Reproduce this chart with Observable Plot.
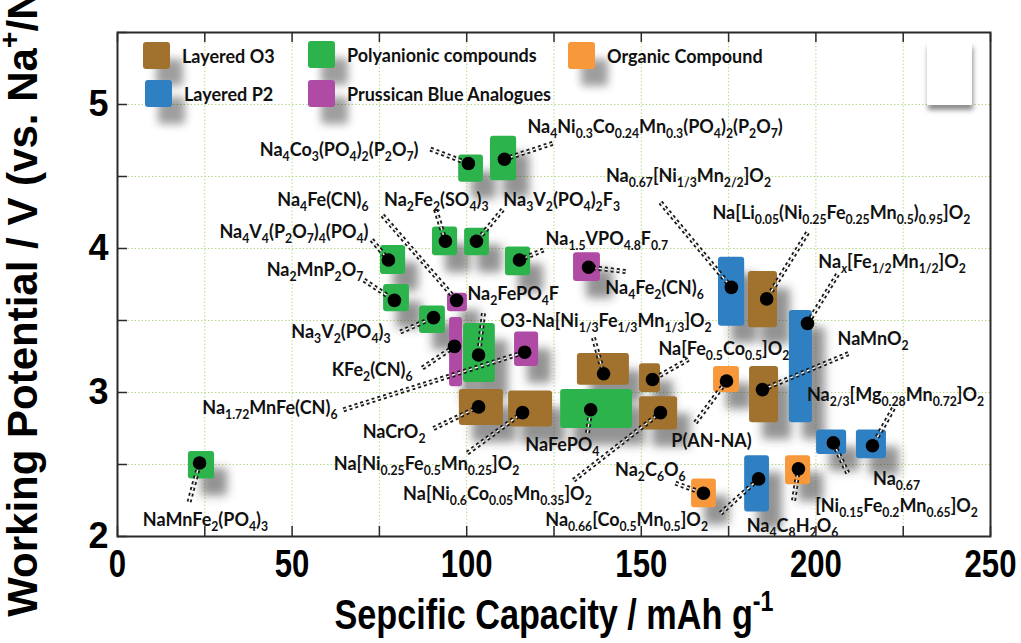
<!DOCTYPE html>
<html>
<head>
<meta charset="utf-8">
<script src="https://cdn.jsdelivr.net/npm/d3@7"></script>
<script src="https://cdn.jsdelivr.net/npm/@observablehq/plot@0.6"></script>
<style>
  body { margin: 0; background: #fff; }
  #wrap { position: relative; width: 1021px; height: 643px; overflow: hidden; }
  #wrap svg { display: block; }
  .lg { position: absolute; display: flex; align-items: center; white-space: nowrap;
        font-family: Lato, "Open Sans", sans-serif; font-weight: 700; font-size: 18px; color: #111; }
  .sw { width: 27px; height: 27px; border-radius: 3px; margin-right: 12px;
        box-shadow: 13px 17px 8px rgba(0,0,0,0.38); }
  .blank { position: absolute; left: 927px; top: 42px; width: 45px; height: 63px; background: #fff;
           box-shadow: 1px 5px 5px rgba(0,0,0,0.45); }
</style>
</head>
<body>
<div id="wrap"></div>
<script>
// ---------------- data ----------------
const families = ["Layered O3", "Layered P2", "Polyanionic compounds", "Prussican Blue Analogues", "Organic Compound"];
const familyColors = ["#a0722e", "#2f7fc3", "#2db34c", "#b04ba5", "#f7983a"];

const materials = [
  "NaMnFe_{2}(PO_{4})_{3}",
  "Na_{4}Co_{3}(PO_{4})_{2}(P_{2}O_{7})",
  "Na_{4}Ni_{0.3}Co_{0.24}Mn_{0.3}(PO_{4})_{2}(P_{2}O_{7})",
  "Na_{2}Fe_{2}(SO_{4})_{3}",
  "Na_{3}V_{2}(PO_{4})_{2}F_{3}",
  "Na_{1.5}VPO_{4.8}F_{0.7}",
  "Na_{4}V_{4}(P_{2}O_{7})_{4}(PO_{4})",
  "Na_{2}MnP_{2}O_{7}",
  "Na_{4}Fe(CN)_{6}",
  "Na_{2}FePO_{4}F",
  "Na_{3}V_{2}(PO_{4})_{3}",
  "KFe_{2}(CN)_{6}",
  "Na_{1.72}MnFe(CN)_{6}",
  "NaCrO_{2}",
  "Na[Ni_{0.25}Fe_{0.5}Mn_{0.25}]O_{2}",
  "NaFePO_{4}",
  "O3-Na[Ni_{1/3}Fe_{1/3}Mn_{1/3}]O_{2}",
  "Na[Fe_{0.5}Co_{0.5}]O_{2}",
  "Na[Ni_{0.6}Co_{0.05}Mn_{0.35}]O_{2}",
  "Na_{0.66}[Co_{0.5}Mn_{0.5}]O_{2}",
  "Na_{2}C_{6}O_{6}",
  "Na_{4}C_{8}H_{2}O_{6}",
  "Na_{0.67}\n[Ni_{0.15}Fe_{0.2}Mn_{0.65}]O_{2}",
  "Na_{2/3}[Mg_{0.28}Mn_{0.72}]O_{2}",
  "P(AN-NA)",
  "NaMnO_{2}",
  "Na_{x}[Fe_{1/2}Mn_{1/2}]O_{2}",
  "Na_{0.67}[Ni_{1/3}Mn_{2/2}]O_{2}",
  "Na[Li_{0.05}(Ni_{0.25}Fe_{0.25}Mn_{0.5})_{0.95}]O_{2}",
  "Na_{4}Fe_{2}(CN)_{6}"
];
const family = [
  "Polyanionic compounds", "Polyanionic compounds", "Polyanionic compounds", "Polyanionic compounds",
  "Polyanionic compounds", "Polyanionic compounds", "Polyanionic compounds", "Polyanionic compounds",
  "Prussican Blue Analogues", "Polyanionic compounds", "Polyanionic compounds", "Prussican Blue Analogues",
  "Prussican Blue Analogues", "Layered O3", "Layered O3", "Polyanionic compounds",
  "Layered O3", "Layered O3", "Layered O3", "Layered P2",
  "Organic Compound", "Organic Compound", "Layered P2", "Layered P2",
  "Organic Compound", "Layered O3", "Layered P2", "Layered P2",
  "Layered O3", "Prussican Blue Analogues"
];
// average specific capacity (mAh/g) and working potential (V)
const capacity = [23.5, 100.5, 110.8, 93.9, 102.8, 115.1, 77.6, 79.3, 97.1, 103.4,
                  90.5, 96.5, 116.6, 103.4, 116.0, 135.5, 139.2, 153.2, 155.5, 183.6,
                  167.8, 195.0, 205.0, 216.2, 174.4, 184.7, 197.6, 175.8, 185.9, 134.9];
const potential = [2.51, 4.59, 4.62, 4.05, 4.05, 3.92, 3.92, 3.64, 3.64, 3.26,
                   3.52, 3.32, 3.28, 2.90, 2.86, 2.88, 3.13, 3.09, 2.86, 2.40,
                   2.30, 2.47, 2.65, 2.63, 3.08, 3.02, 3.48, 3.73, 3.65, 3.87];
// ranges spanned by each material
const capacityRange = [[20.3, 27.8], [97.7, 104.8], [106.8, 114.3], [90.2, 97.4], [99.4, 106.5],
  [111.1, 118.3], [75.3, 82.5], [76.2, 83.6], [94.5, 100.2], [99.1, 108.2],
  [86.5, 93.9], [95.1, 98.8], [113.7, 120.6], [97.9, 110.5], [112.0, 124.6],
  [126.9, 147.5], [131.7, 146.6], [149.5, 155.5], [149.5, 160.4], [179.6, 186.7],
  [164.4, 171.5], [191.3, 198.5], [200.2, 208.8], [211.6, 220.2], [170.7, 178.1],
  [181.0, 189.3], [192.4, 199.0], [172.1, 179.6], [180.7, 189.0], [130.6, 138.3]];
const potentialRange = [[2.40, 2.59], [4.46, 4.65], [4.47, 4.78], [3.95, 4.15], [3.95, 4.14],
  [3.81, 4.01], [3.82, 4.02], [3.56, 3.75], [3.56, 3.69], [3.07, 3.48],
  [3.41, 3.60], [3.04, 3.52], [3.18, 3.42], [2.77, 3.02], [2.76, 3.01],
  [2.75, 3.02], [3.05, 3.27], [3.00, 3.20], [2.74, 2.97], [2.17, 2.56],
  [2.20, 2.40], [2.36, 2.56], [2.57, 2.74], [2.54, 2.74], [3.00, 3.18],
  [2.79, 3.18], [2.79, 3.57], [3.46, 3.94], [3.45, 3.84], [3.77, 3.97]];

// annotation placement (in data units): label anchor point, text anchor, leader end
const labelAt = [[25.2, 2.12], [86.2, 4.69], [117.4, 4.85], [91.3, 4.34], [110.5, 4.34],
  [122.6, 4.07], [71.9, 4.12], [70.4, 3.86], [71.9, 4.34], [100.2, 3.69],
  [78.2, 3.43], [84.5, 3.16], [63.0, 2.90], [88.2, 2.73], [88.5, 2.51],
  [127.4, 2.64], [109.6, 3.50], [154.9, 3.31], [108.8, 2.30], [145.8, 2.12],
  [162.7, 2.47], [193.3, 2.08], [223.1, 2.33], [222.8, 2.99], [170.1, 2.67],
  [206.2, 3.38], [200.7, 3.91], [163.5, 4.51], [207.3, 4.25], [153.8, 3.73]];
const labelAnchor = ["middle", "end", "start", "middle", "start", "start", "end", "end", "end", "start",
  "end", "end", "end", "end", "middle", "middle", "start", "start", "middle", "middle",
  "end", "middle", "middle", "middle", "middle", "start", "start", "middle", "middle", "middle"];
const leaderTo = [[20.5, 2.24], [89.6, 4.69], [124.6, 4.73], [91.1, 4.27], [110.3, 4.27],
  [122.0, 3.99], [72.8, 4.06], [70.6, 3.78], [75.9, 4.23], [104.8, 3.55],
  [81.0, 3.42], [87.3, 3.17], [64.7, 2.88], [90.5, 2.75], [100.2, 2.58],
  [134.6, 2.72], [136.3, 3.38], [163.5, 3.23], [130.6, 2.39], [172.7, 2.16],
  [159.8, 2.37], [193.6, 2.25], [209.1, 2.44], [222.2, 2.89], [165.5, 2.79],
  [209.3, 3.27], [206.2, 3.82], [155.5, 4.32], [197.6, 4.11], [145.5, 3.84]];

const xTicks = [0, 25, 50, 75, 100, 125, 150, 175, 200, 225, 250];
const xTickLabels = [0, 50, 100, 150, 200, 250];
const yTicks = [2, 2.5, 3, 3.5, 4, 4.5, 5, 5.5];
const yTickLabels = [2, 3, 4, 5];
const xTitle = "Sepcific Capacity / mAh g^{-1}";
const yTitle = "Working Potential / V (vs. Na^{+}/Na)";

// ---------------- table ----------------
const table = materials.map((name, i) => ({
  name, family: family[i], cap: capacity[i], v: potential[i],
  capLo: capacityRange[i][0], capHi: capacityRange[i][1],
  vLo: potentialRange[i][0], vHi: potentialRange[i][1],
  labCap: labelAt[i][0], labV: labelAt[i][1], anchor: labelAnchor[i],
  leadCap: leaderTo[i][0], leadV: leaderTo[i][1]
}));

const LBL = "Lato, 'Open Sans', sans-serif";
const ARIAL = "'Liberation Sans', Arial, sans-serif";

const labelMark = anchor => Plot.text(table.filter(d => d.anchor === anchor), {
  x: "labCap", y: "labV", text: "name", textAnchor: anchor,
  fontSize: 18, fontWeight: 700, fontFamily: LBL, fill: "#111", lineHeight: 1.2
});

const plot = Plot.plot({
  width: 1021, height: 643,
  marginLeft: 117, marginRight: 31, marginTop: 32, marginBottom: 107,
  x: {domain: [0, 250]},
  y: {domain: [2, 5.5]},
  color: {domain: families, range: familyColors},
  style: {background: "#fff", overflow: "visible"},
  marks: [
    Plot.gridX(xTicks, {stroke: "#b9d98a", strokeOpacity: 1, strokeDasharray: "1.5,2"}),
    Plot.gridY(yTicks, {stroke: "#b9d98a", strokeOpacity: 1, strokeDasharray: "1.5,2"}),
    // shadows
    Plot.rect(table, {x1: "capLo", x2: "capHi", y1: "vLo", y2: "vHi", fill: "#3a3a3a",
      fillOpacity: 0.55, dx: 13, dy: 17, rx: 3}),
    // boxes
    Plot.rect(table, {x1: "capLo", x2: "capHi", y1: "vLo", y2: "vHi", fill: "family", rx: 3}),
    // leaders (double dashed)
    Plot.link(table, {x1: "leadCap", y1: "leadV", x2: "cap", y2: "v", stroke: "#1a1a1a",
      strokeWidth: 5, strokeDasharray: "3,3"}),
    Plot.link(table, {x1: "leadCap", y1: "leadV", x2: "cap", y2: "v", stroke: "#fff",
      strokeWidth: 1.4, strokeDasharray: "3,3"}),
    Plot.dot(table, {x: "cap", y: "v", r: 6.8, fill: "#000"}),
    labelMark("start"), labelMark("middle"), labelMark("end"),
    Plot.frame({stroke: "#2a2a2a", strokeWidth: 2}),
    Plot.axisX(xTicks, {anchor: "bottom", tickSize: -10, tickFormat: () => "", label: null, stroke: "#2a2a2a", strokeWidth: 1.5}),
    Plot.axisX(xTicks, {anchor: "top", tickSize: -9, tickFormat: () => "", label: null, stroke: "#2a2a2a", strokeWidth: 1.5}),
    Plot.axisX(xTickLabels, {anchor: "bottom", tickSize: 0, tickPadding: 14, label: null,
      tickFormat: d => String(d), fontSize: 38, fontWeight: "bold", fontFamily: ARIAL, fill: "#000"}),
    Plot.axisY(yTicks, {anchor: "left", tickSize: -10, tickFormat: () => "", label: null, stroke: "#2a2a2a", strokeWidth: 1.5}),
    Plot.axisY(yTickLabels, {anchor: "left", tickSize: 0, tickPadding: 9, label: null,
      tickFormat: d => String(d), fontSize: 36, fontWeight: "bold", fontFamily: ARIAL, fill: "#000"}),
    Plot.text([xTitle], {text: d => d, frameAnchor: "bottom", textAnchor: "middle", dy: 92, fontSize: 42,
      fontWeight: "bold", fontFamily: ARIAL, fill: "#000"}),
    Plot.text([yTitle], {text: d => d, frameAnchor: "left", textAnchor: "middle", rotate: -90, dx: -94, fontSize: 42,
      fontWeight: "bold", fontFamily: ARIAL, fill: "#000"})
  ]
});

const wrap = document.getElementById("wrap");
wrap.appendChild(plot);

// blur the shadow layer
const svg = d3.select(plot);
const defs = svg.insert("defs", ":first-child");
defs.append("filter").attr("id", "softShadow")
  .attr("x", "-20%").attr("y", "-20%").attr("width", "140%").attr("height", "140%")
  .append("feGaussianBlur").attr("stdDeviation", 5);
const rectGroups = plot.querySelectorAll('g[aria-label="rect"]');
if (rectGroups.length) rectGroups[0].setAttribute("filter", "url(#softShadow)");

// drop empty tick texts (tick-only axes)
plot.querySelectorAll("text").forEach(el => { if (!el.textContent.trim()) el.remove(); });

// narrow the x-axis typography (condensed look)
plot.querySelectorAll('g[aria-label="x-axis tick label"] text').forEach(el => {
  el.setAttribute("transform", (el.getAttribute("transform") || "") + " scale(0.82,1)");
});

// rich text: _{sub} and ^{sup}
const NS = "http://www.w3.org/2000/svg";
function richify(node, fs) {
  const s = node.textContent;
  if (!/[_^]\{/.test(s)) return false;
  node.textContent = "";
  const re = /([_^])\{([^}]*)\}/g;
  let last = 0, m, shift = 0;
  const add = (txt, kind) => {
    const t = document.createElementNS(NS, "tspan");
    t.textContent = txt;
    const target = kind === "sub" ? fs * 0.28 : kind === "sup" ? -fs * 0.42 : 0;
    const dy = target - shift;
    if (dy) t.setAttribute("dy", dy.toFixed(2));
    shift = target;
    if (kind) {
      t.setAttribute("font-size", (fs * 0.68).toFixed(2));
      if (/^[a-z]$/.test(txt)) t.setAttribute("font-style", "italic");
    }
    node.appendChild(t);
  };
  while ((m = re.exec(s))) {
    if (m.index > last) add(s.slice(last, m.index), null);
    add(m[2], m[1] === "_" ? "sub" : "sup");
    last = re.lastIndex;
  }
  if (last < s.length) add(s.slice(last), null);
  return true;
}
plot.querySelectorAll("text").forEach(el => {
  const fs = parseFloat(getComputedStyle(el).fontSize) || 18;
  const isXTitle = el.textContent.startsWith("Sepcific");
  const lines = el.querySelectorAll(":scope > tspan");
  if (lines.length) lines.forEach(t => richify(t, fs));
  else richify(el, fs);
  if (isXTitle) el.setAttribute("transform", (el.getAttribute("transform") || "") + " scale(0.815,1)");
});

// legend (inside the frame, top-left)
const legendSlots = [[143, 42], [145, 80], [308, 41], [308, 80], [568, 42]];
families.forEach((f, i) => {
  const item = document.createElement("div");
  item.className = "lg";
  item.style.left = legendSlots[i][0] + "px";
  item.style.top = legendSlots[i][1] + "px";
  const sw = document.createElement("div");
  sw.className = "sw";
  sw.style.background = familyColors[i];
  const tx = document.createElement("span");
  tx.textContent = f;
  item.appendChild(sw); item.appendChild(tx);
  wrap.appendChild(item);
});
const blank = document.createElement("div");
blank.className = "blank";
wrap.appendChild(blank);
</script>
</body>
</html>
